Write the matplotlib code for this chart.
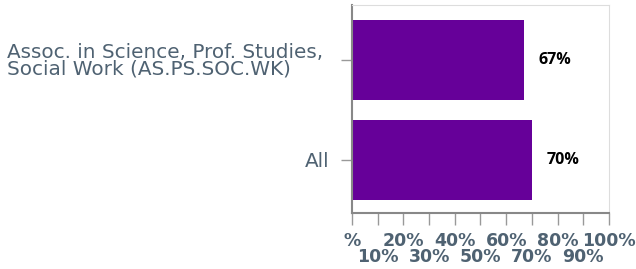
import matplotlib
matplotlib.use("Agg")
import matplotlib.pyplot as plt

# data
categories = ["Assoc. in Science, Prof. Studies, \nSocial Work (AS.PS.SOC.WK)", "All"]
values = [67, 70]
major_ticks = [0, 20, 40, 60, 80, 100]
major_labels = ["%", "20%", "40%", "60%", "80%", "100%"]
minor_ticks = [10, 30, 50, 70, 90]
minor_labels = ["10%", "30%", "50%", "70%", "90%"]

bar_color = "#660099"
text_color = "#4f6272"

fig = plt.figure(figsize=(6.36, 2.69), dpi=100)
ax = fig.add_axes([0.5535, 0.2082, 0.404, 0.7732])

pos = list(range(len(categories)))
ax.barh(pos, values, height=0.8, color=bar_color)

for p, v in zip(pos, values):
    ax.text(v + 12, p, f"{v}%", ha="center", va="center",
            fontsize=11.5, fontweight="bold", family="Open Sans", color="black")

ax.set_xlim(0, 100)
ax.set_ylim(1.53, -0.55)
ax.set_yticks(pos)
ax.set_yticklabels(categories, fontsize=14.4, color=text_color,
                   linespacing=0.82, multialignment="left")

ax.set_xticks(major_ticks)
ax.set_xticklabels(major_labels)
ax.set_xticks(minor_ticks, minor=True)
ax.set_xticklabels(minor_labels, minor=True)

ax.tick_params(axis="y", length=8, width=1, color="#999999", pad=8)
ax.tick_params(axis="x", which="major", length=8.6, width=1, color="#999999",
               pad=5, labelsize=12.5, labelcolor=text_color)
ax.tick_params(axis="x", which="minor", length=8.6, width=1, color="#999999",
               pad=16.4, labelsize=12.5, labelcolor=text_color)
for lab in ax.get_xticklabels() + ax.get_xticklabels(minor=True):
    lab.set_fontweight("bold")

ax.spines["left"].set_color("#888888")
ax.spines["left"].set_linewidth(1.5)
ax.spines["bottom"].set_color("#888888")
ax.spines["bottom"].set_linewidth(1.5)
ax.spines["top"].set_color("#dddddd")
ax.spines["right"].set_color("#dddddd")

fig.savefig("out.png", dpi=100)
